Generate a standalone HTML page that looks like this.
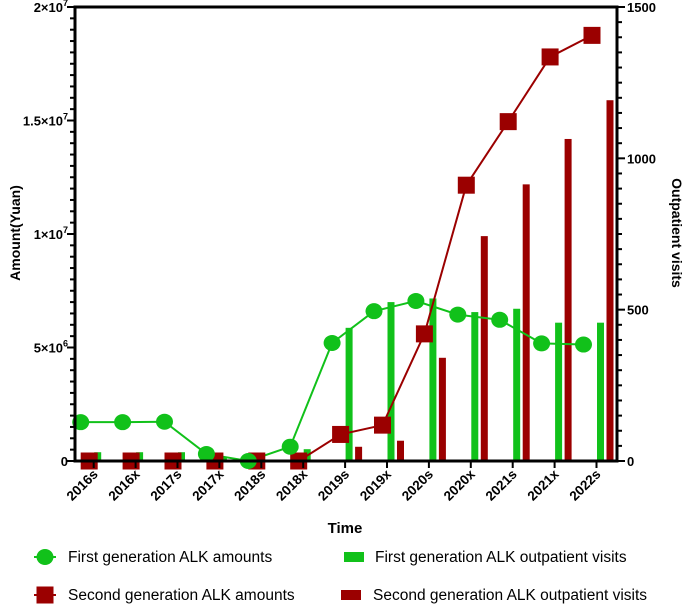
<!DOCTYPE html>
<html><head><meta charset="utf-8"><style>
body{margin:0;background:#fff;}
svg{display:block;font-family:"Liberation Sans",Arial,sans-serif;}
</style></head><body>
<svg id="chart" width="685" height="605" viewBox="0 0 685 605" xmlns="http://www.w3.org/2000/svg" style="position:absolute;left:0;top:0">
<g id="bars"></g><g id="lines"></g><g id="axes"></g><g id="legend"></g>
</svg>
<script>
const categories=["2016s","2016x","2017s","2017x","2018s","2018x","2019s","2019x","2020s","2020x","2021s","2021x","2022s"];
const firstAmounts=[1.71e6,1.71e6,1.73e6,0.31e6,0,0.63e6,5.2e6,6.6e6,7.05e6,6.45e6,6.22e6,5.18e6,5.13e6];
const secondAmounts=[0,0,0,0,0,0,1.17e6,1.58e6,5.6e6,12.15e6,14.95e6,17.8e6,18.75e6];
const firstVisits=[29,29,29,12,2,39,440,525,537,492,503,457,457];
const secondVisits=[0,0,0,0,0,0,47,67,341,743,914,1064,1192];
const leftTicks=[0,5e6,1e7,1.5e7,2e7];
const leftTickLabels=[["0",""],["5×10","6"],["1×10","7"],["1.5×10","7"],["2×10","7"]];
const rightTicks=[0,500,1000,1500];

const NS="http://www.w3.org/2000/svg";
const X0=75,X1=617,Y0=461,Y1=7,STEP=41.9,FIRST=93.7;
const xCat=i=>FIRST+i*STEP;
const yL=v=>Y0-v/2e7*(Y0-Y1);
const yR=v=>Y0-v/1500*(Y0-Y1);
const GREEN="#11c11a",RED="#9b0000";
function mk(tag,attrs,parent){const e=document.createElementNS(NS,tag);for(const k in attrs)e.setAttribute(k,attrs[k]);parent.appendChild(e);return e;}
const gB=document.getElementById('bars'),gL=document.getElementById('lines'),gA=document.getElementById('axes');

categories.forEach((c,i)=>{
 const x=xCat(i);
 let b=mk('rect',{x:x+0.5,y:yR(firstVisits[i]),width:7,height:Y0-yR(firstVisits[i]),fill:GREEN},gB);
 
 
 b=mk('rect',{x:x+10,y:yR(secondVisits[i]),width:7,height:Y0-yR(secondVisits[i]),fill:RED},gB);
 
 
});
function line(vals,off,col,name){
 const p=mk('polyline',{points:vals.map((v,i)=>(xCat(i)+off)+','+yL(v)).join(' '),fill:'none',stroke:col,'stroke-width':2},gL);
 
 
}
line(firstAmounts,-13,GREEN,'first-amounts-line');
line(secondAmounts,-4.5,RED,'second-amounts-line');
categories.forEach((c,i)=>{
 const x=xCat(i);
 let s=mk('rect',{x:x-4.5-8.5,y:yL(secondAmounts[i])-8.5,width:17,height:17,fill:RED},gL);
 
 
});
categories.forEach((c,i)=>{
 const x=xCat(i);
 let p=mk('ellipse',{cx:x-13,cy:yL(firstAmounts[i]),rx:8.5,ry:8,fill:GREEN},gL);
 
 
});
let fr=mk('path',{d:`M${X0},${Y0} L${X0},${Y1} L${X1},${Y1} L${X1},${Y0} M${X0-1.5},${Y0} L${X1+1.5},${Y0}`,fill:'none',stroke:'#000','stroke-width':3},gA);


for(let v=0;v<=2e7;v+=5e5){const major=v%5e6===0;mk('line',{x1:X0-(major?8:5),x2:X0,y1:yL(v),y2:yL(v),stroke:'#000','stroke-width':2},gA);}
leftTicks.forEach((v,i)=>{
 const t=mk('text',{x:68,y:yL(v)+5,'text-anchor':'end','font-size':13,'font-weight':'bold'},gA);
 
 
 t.textContent=leftTickLabels[i][0];
 if(leftTickLabels[i][1]){const s=mk('tspan',{'font-size':9,dy:-6},t);s.textContent=leftTickLabels[i][1];}
});
for(let v=0;v<=1500;v+=50){const major=v%500===0;mk('line',{x1:X1,x2:X1+(major?8:5),y1:yR(v),y2:yR(v),stroke:'#000','stroke-width':2},gA);}
rightTicks.forEach(v=>{
 const t=mk('text',{x:627,y:yR(v)+5,'font-size':13,'font-weight':'bold'},gA);
 
 
 t.textContent=v;
});
categories.forEach((c,i)=>{
 const x=xCat(i);
 mk('line',{x1:x,x2:x,y1:Y0,y2:Y0+7,stroke:'#000','stroke-width':2},gA);
 const t=mk('text',{x:x+5,y:Y0+14,'text-anchor':'end','font-size':13.5,'font-weight':'bold',transform:`rotate(-45 ${x+5} ${Y0+14})`},gA);
 
 
 t.textContent=c;
});
</script>
<svg style="position:absolute;left:0;top:0" width="685" height="605">
<text x="345" y="533" text-anchor="middle" font-size="15" font-weight="bold" font-family="Liberation Sans, sans-serif">Time</text>
<text transform="rotate(-90 15 233)" x="15" y="233" dy="5" text-anchor="middle" font-size="14" font-weight="bold" font-family="Liberation Sans, sans-serif">Amount(Yuan)</text>
<text transform="rotate(90 677 233)" x="677" y="233" dy="5" text-anchor="middle" font-size="14" font-weight="bold" font-family="Liberation Sans, sans-serif">Outpatient visits</text>
<g font-family="Liberation Sans, sans-serif" font-size="15.5">
<line x1="34" x2="56" y1="557" y2="557" stroke="#11c11a" stroke-width="2"/><ellipse cx="45" cy="557" rx="8.5" ry="8" fill="#11c11a"/>
<text x="68" y="562">First generation ALK amounts</text></g>
<g font-family="Liberation Sans, sans-serif" font-size="15.5">
<line x1="34" x2="56" y1="595" y2="595" stroke="#9b0000" stroke-width="2"/><rect x="36.5" y="586.5" width="17" height="17" fill="#9b0000"/>
<text x="68" y="600">Second generation ALK amounts</text></g>
<g font-family="Liberation Sans, sans-serif" font-size="15.5">
<rect x="344" y="552" width="20" height="10" fill="#11c11a"/>
<text x="375" y="562">First generation ALK outpatient visits</text></g>
<g font-family="Liberation Sans, sans-serif" font-size="15.5">
<rect x="341" y="590" width="20" height="10" fill="#9b0000"/>
<text x="373" y="600">Second generation ALK outpatient visits</text></g>
</svg>
</body></html>
